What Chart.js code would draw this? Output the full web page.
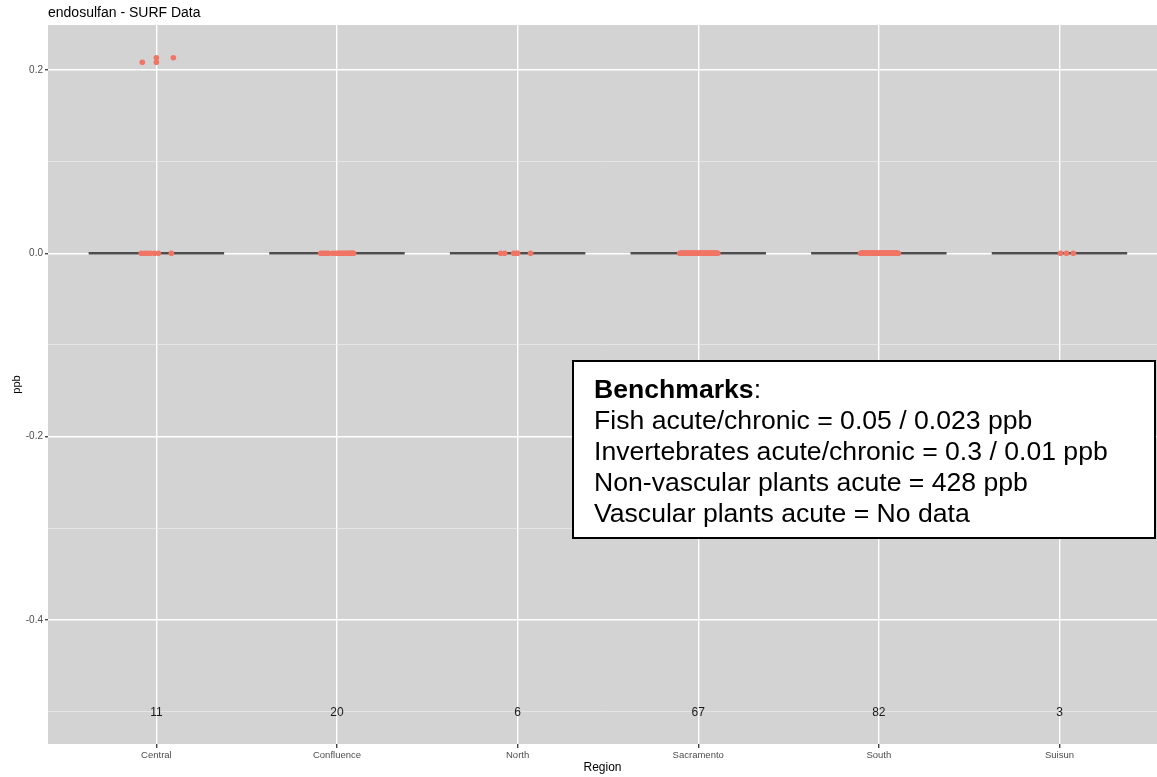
<!DOCTYPE html>
<html>
<head>
<meta charset="utf-8">
<script src="https://cdn.jsdelivr.net/npm/chart.js@4.4.0/dist/chart.umd.min.js"></script>
<style>
  html, body { margin: 0; padding: 0; background: #fff; }
  #grafico { display: block; }
</style>
</head>
<body>
<canvas id="grafico" width="1157" height="777"></canvas>
<script>
// categorias e contagens
const regioes = ["Central", "Confluence", "North", "Sacramento", "South", "Suisun"];
const contagens = [11, 20, 6, 67, 82, 3];

// ticks do eixo y (maiores com rotulo, menores so grade)
const yTicks = [-0.5, -0.4, -0.3, -0.2, -0.1, 0, 0.1, 0.2];

// pontos (deslocamento de jitter em unidades de categoria, valor em ppb)
const centralX = [-0.078, 0.000, 0.000, 0.094, -0.083, -0.066, -0.050, -0.033, -0.011, 0.011, 0.083];
const centralY = [0.2084, 0.2134, 0.2084, 0.2134, 0, 0, 0, 0, 0, 0, 0];

const confluenceX = [-0.090, -0.079, -0.068, -0.057, -0.046, -0.024, -0.007, 0.004, 0.015, 0.020,
                     0.031, 0.037, 0.048, 0.053, 0.064, 0.070, 0.076, 0.081, 0.087, 0.092];
const confluenceY = [0, 0, 0, 0, 0, 0, 0, 0, 0, 0,
                     0, 0, 0, 0, 0, 0, 0, 0, 0, 0];

const northX = [-0.094, -0.072, -0.022, -0.006, 0.000, 0.072];
const northY = [0, 0, 0, 0, 0, 0];

const sacramentoX = [-0.102, -0.096, -0.091, -0.093, -0.085, -0.079, -0.083, -0.074, -0.070, -0.066,
                     -0.071, -0.061, -0.057, -0.052, -0.058, -0.047, -0.043, -0.038, -0.041, -0.033,
                     -0.029, -0.024, -0.027, -0.019, -0.015, -0.010, -0.013, -0.006, -0.002, 0.003,
                     0.001, 0.008, 0.012, 0.017, 0.014, 0.022, 0.026, 0.031, 0.028, 0.036,
                     0.040, 0.045, 0.042, 0.050, 0.054, 0.059, 0.056, 0.063, 0.067, 0.072,
                     0.069, 0.077, 0.081, 0.086, 0.083, 0.090, 0.094, 0.099, 0.096, 0.104,
                     0.108, -0.088, -0.035, 0.020, 0.048, 0.075, 0.101];
const sacramentoY = [0, 0, 0, 0, 0, 0, 0, 0, 0, 0,
                     0, 0, 0, 0, 0, 0, 0, 0, 0, 0,
                     0, 0, 0, 0, 0, 0, 0, 0, 0, 0,
                     0, 0, 0, 0, 0, 0, 0, 0, 0, 0,
                     0, 0, 0, 0, 0, 0, 0, 0, 0, 0,
                     0, 0, 0, 0, 0, 0, 0, 0, 0, 0,
                     0, 0, 0, 0, 0, 0, 0];

const southX = [-0.101, -0.097, -0.093, -0.095, -0.088, -0.084, -0.086, -0.080, -0.076, -0.078,
                -0.072, -0.068, -0.070, -0.064, -0.060, -0.062, -0.056, -0.052, -0.054, -0.048,
                -0.044, -0.046, -0.040, -0.036, -0.038, -0.032, -0.028, -0.030, -0.024, -0.020,
                -0.022, -0.016, -0.012, -0.014, -0.008, -0.004, -0.006, 0.000, 0.004, 0.002,
                0.008, 0.012, 0.010, 0.016, 0.020, 0.018, 0.024, 0.028, 0.026, 0.032,
                0.036, 0.034, 0.040, 0.044, 0.042, 0.048, 0.052, 0.050, 0.056, 0.060,
                0.058, 0.064, 0.068, 0.066, 0.072, 0.076, 0.074, 0.080, 0.084, 0.082,
                0.088, 0.092, 0.090, 0.096, 0.100, 0.098, 0.104, 0.108, -0.090, -0.034,
                0.030, 0.086];
const southY = [0, 0, 0, 0, 0, 0, 0, 0, 0, 0,
                0, 0, 0, 0, 0, 0, 0, 0, 0, 0,
                0, 0, 0, 0, 0, 0, 0, 0, 0, 0,
                0, 0, 0, 0, 0, 0, 0, 0, 0, 0,
                0, 0, 0, 0, 0, 0, 0, 0, 0, 0,
                0, 0, 0, 0, 0, 0, 0, 0, 0, 0,
                0, 0, 0, 0, 0, 0, 0, 0, 0, 0,
                0, 0, 0, 0, 0, 0, 0, 0, 0, 0,
                0, 0];

const suisunX = [0.006, 0.039, 0.077];
const suisunY = [0, 0, 0];

// mediana / caixa de cada regiao (todas em zero)
const medianas = [0, 0, 0, 0, 0, 0];

const benchmarks = [
  "Fish acute/chronic = 0.05 / 0.023 ppb",
  "Invertebrates acute/chronic = 0.3 / 0.01 ppb",
  "Non-vascular plants acute = 428 ppb",
  "Vascular plants acute = No data"
];

const grupos = [
  [centralX, centralY], [confluenceX, confluenceY], [northX, northY],
  [sacramentoX, sacramentoY], [southX, southY], [suisunX, suisunY]
];

const pontos = [];
grupos.forEach(([xs, ys], i) => {
  xs.forEach((dx, j) => pontos.push({ x: i + 1 + dx, y: ys[j] }));
});

const caixas = medianas.map((m, i) => ({
  type: "line",
  data: [{ x: i + 1 - 0.375, y: m }, { x: i + 1 + 0.375, y: m }],
  borderColor: "#4d4d4d",
  borderWidth: 2.5,
  pointRadius: 0,
  borderCapStyle: "butt"
}));

const isMajor = v => Math.round(v * 10) % 2 === 0;

const fundo = {
  id: "fundo",
  beforeDraw(chart) {
    const { ctx, chartArea: a } = chart;
    ctx.save();
    ctx.fillStyle = "#ffffff";
    ctx.fillRect(0, 0, chart.width, chart.height);
    ctx.fillStyle = "#d3d3d3";
    ctx.fillRect(a.left, a.top, a.right - a.left, a.bottom - a.top);
    ctx.restore();
  },
  afterDraw(chart) {
    const { ctx, chartArea: a, scales } = chart;
    ctx.save();

    // contagens
    ctx.fillStyle = "#1a1a1a";
    ctx.font = "12px 'Liberation Sans', Arial, sans-serif";
    ctx.textAlign = "center";
    ctx.textBaseline = "middle";
    contagens.forEach((n, i) => {
      ctx.fillText(String(n), scales.x.getPixelForValue(i + 1), scales.y.getPixelForValue(-0.5) + 1);
    });

    // titulo
    ctx.fillStyle = "#000";
    ctx.textAlign = "left";
    ctx.textBaseline = "alphabetic";
    ctx.font = "14px 'Liberation Sans', Arial, sans-serif";
    ctx.fillText("endosulfan - SURF Data", a.left, 17);

    // titulos dos eixos
    ctx.font = "12px 'Liberation Sans', Arial, sans-serif";
    ctx.textAlign = "center";
    ctx.fillText("Region", (a.left + a.right) / 2, 771);
    ctx.save();
    ctx.translate(17, (a.top + a.bottom) / 2);
    ctx.rotate(-Math.PI / 2);
    ctx.font = "11px 'Liberation Sans', Arial, sans-serif";
    ctx.textBaseline = "middle";
    ctx.fillText("ppb", 0, 0);
    ctx.restore();

    // caixa de benchmarks
    const bx = 573, by = 361, bw = 582, bh = 177;
    ctx.fillStyle = "#fff";
    ctx.fillRect(bx, by, bw, bh);
    ctx.strokeStyle = "#000";
    ctx.lineWidth = 2;
    ctx.strokeRect(bx, by, bw, bh);

    ctx.fillStyle = "#000";
    ctx.textAlign = "left";
    ctx.textBaseline = "alphabetic";
    const tx = 594, fs = 26.6, lh = 31;
    ctx.font = `bold ${fs}px 'Liberation Sans', Arial, sans-serif`;
    ctx.fillText("Benchmarks", tx, 398);
    const w = ctx.measureText("Benchmarks").width;
    ctx.font = `${fs}px 'Liberation Sans', Arial, sans-serif`;
    ctx.fillText(":", tx + w, 398);
    benchmarks.forEach((t, i) => ctx.fillText(t, tx, 398 + lh * (i + 1)));

    ctx.restore();
  }
};

new Chart(document.getElementById("grafico"), {
  data: {
    datasets: [
      {
        type: "scatter",
        data: pontos,
        backgroundColor: "#f07565",
        borderWidth: 0,
        pointRadius: 2.8
      },
      ...caixas
    ]
  },
  options: {
    responsive: false,
    animation: false,
    devicePixelRatio: 1,
    layout: { autoPadding: false, padding: { top: 25, right: 0, bottom: 0, left: 0 } },
    plugins: {
      legend: { display: false },
      tooltip: { enabled: false },
      title: { display: false }
    },
    scales: {
      x: {
        type: "linear",
        min: 0.4,
        max: 6.54,
        afterBuildTicks: s => { s.ticks = regioes.map((r, i) => ({ value: i + 1 })); },
        afterFit: s => { s.height = 33; s.paddingLeft = 0; s.paddingRight = 0; },
        border: { display: false },
        grid: {
          color: "#ffffff",
          lineWidth: 1.4,
          tickLength: 4,
          tickColor: "#444"
        },
        ticks: {
          autoSkip: false,
          maxRotation: 0,
          padding: 2,
          color: "#4d4d4d",
          font: { family: "'Liberation Sans', Arial, sans-serif", size: 9.5 },
          callback: v => regioes[Math.round(v) - 1]
        }
      },
      y: {
        type: "linear",
        min: -0.5354,
        max: 0.2491,
        afterBuildTicks: s => { s.ticks = yTicks.map(v => ({ value: v })); },
        afterFit: s => { s.width = 48; s.paddingTop = 0; s.paddingBottom = 0; },
        border: { display: false },
        grid: {
          color: c => isMajor(c.tick.value) ? "#ffffff" : "#ececec",
          lineWidth: c => isMajor(c.tick.value) ? 1.4 : 0.7,
          tickLength: 3,
          tickColor: c => isMajor(c.tick.value) ? "#444" : "rgba(0,0,0,0)"
        },
        ticks: {
          padding: 2,
          color: "#4d4d4d",
          font: { family: "'Liberation Sans', Arial, sans-serif", size: 10 },
          callback: v => isMajor(v) ? v.toFixed(1) : ""
        }
      }
    }
  },
  plugins: [fundo]
});
</script>
</body>
</html>
